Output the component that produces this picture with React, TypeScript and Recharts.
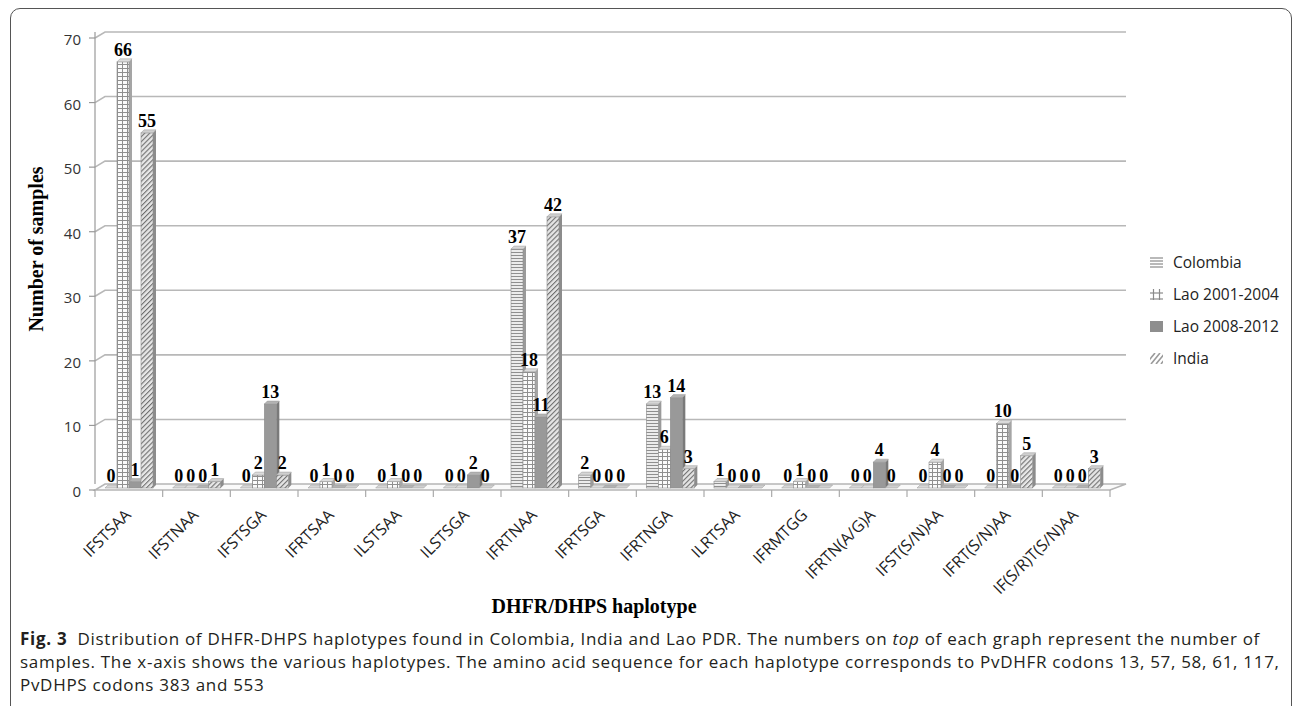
import React from 'react';
import { BarChart, Bar, XAxis, YAxis, CartesianGrid, LabelList } from 'recharts';

const haplotypes = [
  'IFSTSAA', 'IFSTNAA', 'IFSTSGA', 'IFRTSAA', 'ILSTSAA', 'ILSTSGA', 'IFRTNAA', 'IFRTSGA',
  'IFRTNGA', 'ILRTSAA', 'IFRMTGG', 'IFRTN(A/G)A', 'IFST(S/N)AA', 'IFRT(S/N)AA', 'IF(S/R)T(S/N)AA'
];
const colombia = [0, 0, 0, 0, 0, 0, 37, 2, 13, 1, 0, 0, 0, 0, 0];
const lao2001 = [66, 0, 2, 1, 1, 0, 18, 0, 6, 0, 1, 0, 4, 10, 0];
const lao2008 = [1, 0, 13, 0, 0, 2, 11, 0, 14, 0, 0, 4, 0, 0, 0];
const india = [55, 1, 2, 0, 0, 0, 42, 0, 3, 0, 0, 0, 0, 5, 3];
const yTicks = [0, 10, 20, 30, 40, 50, 60, 70];

const series = [
  { key: 'colombia', name: 'Colombia', front: 'url(#pColombia)', side: '#9a9a9a', top: '#d6d6d6' },
  { key: 'lao2001', name: 'Lao 2001-2004', front: 'url(#pLao2001)', side: '#a5a5a5', top: '#dcdcdc' },
  { key: 'lao2008', name: 'Lao 2008-2012', front: '#999999', side: '#7a7a7a', top: '#b3b3b3' },
  { key: 'india', name: 'India', front: 'url(#pIndia)', side: '#8c8c8c', top: '#cfcfcf' },
];

const data = haplotypes.map((h, i) => ({
  name: h,
  colombia: colombia[i],
  lao2001: lao2001[i],
  lao2008: lao2008[i],
  india: india[i],
}));

// layout
const CHART_W = 1293;
const CHART_H = 600;
const M_TOP = 32;
const PLOT_H = 452;
const Y_AXIS_W = 95;
const M_RIGHT = 183;
const PLOT_W = CHART_W - Y_AXIS_W - M_RIGHT;
const PLOT_BOTTOM = M_TOP + PLOT_H;
const DEPTH = 3;
const SHIFT = 4;

const sans = '"Open Sans", "Noto Sans", sans-serif';
const serif = '"Liberation Serif", "Times New Roman", serif';

// bar with a little fake 3D depth
const Bar3D = (props: any) => {
  const { x, y, width, height, front, side, top } = props;
  const yy = y + SHIFT;
  const h = Math.max(height, 0);
  const d = DEPTH;
  return (
    <g>
      {h > 0 && (
        <>
          <polygon
            points={`${x + width},${yy} ${x + width + d},${yy - d} ${x + width + d},${yy + h - d} ${x + width},${yy + h}`}
            fill={side}
          />
          <rect x={x} y={yy} width={width} height={h} fill={front} stroke="#8c8c8c" strokeWidth={0.6} />
        </>
      )}
      <polygon
        points={`${x},${yy} ${x + d},${yy - d} ${x + width + d},${yy - d} ${x + width},${yy}`}
        fill={top}
        stroke="#9a9a9a"
        strokeWidth={0.5}
      />
    </g>
  );
};

const gridLine = (p: any) => {
  const { x1, y1, x2, key } = p;
  if (y1 >= PLOT_BOTTOM - 1) {
    return (
      <g key={key}>
        <path
          d={`M${x1},${y1 + 6} L${x2},${y1 + 6} L${x2 + 16},${y1} L${x1 + 10},${y1} Z`}
          fill="#fafafa"
          stroke="#b5b5b5"
          strokeWidth={1.5}
        />
      </g>
    );
  }
  return (
    <path
      key={key}
      d={`M${x1},${y1 + 6} L${x1 + 10},${y1} L${x2 + 16},${y1}`}
      stroke="#b8b8b8"
      strokeWidth={1.6}
      fill="none"
    />
  );
};

const YTick = (props: any) => {
  const { x, y, payload } = props;
  const ax = x + 14;
  return (
    <g>
      <line x1={ax - 6} x2={ax} y1={y + 6} y2={y + 6} stroke="#999" strokeWidth={1.2} />
      <text x={x} y={y + 7} textAnchor="end" dominantBaseline="central" fontFamily={sans} fontSize={15} fill="#333">
        {payload.value}
      </text>
    </g>
  );
};

const XTick = (props: any) => {
  const { x, payload, index } = props;
  const band = PLOT_W / haplotypes.length;
  const fy = PLOT_BOTTOM + 6;
  const tx = x + 3;
  const ty = PLOT_BOTTOM + 32;
  return (
    <g>
      <line x1={x - band / 2} x2={x - band / 2} y1={fy} y2={fy + 7} stroke="#aaa" strokeWidth={1.2} />
      {index === haplotypes.length - 1 && (
        <line x1={x + band / 2} x2={x + band / 2} y1={fy} y2={fy + 7} stroke="#aaa" strokeWidth={1.2} />
      )}
      <text
        x={tx}
        y={ty}
        textAnchor="end"
        transform={`rotate(-45, ${tx}, ${ty})`}
        fontFamily={sans}
        fontSize={16}
        fill="#222"
      >
        {payload.value}
      </text>
    </g>
  );
};

const LegendIcon = ({ k }: { k: string }) => {
  if (k === 'colombia') {
    return (
      <svg width={13} height={11}>
        {[1, 4, 7, 10].map(y => <line key={y} x1={0} x2={13} y1={y} y2={y} stroke="#8a8a8a" strokeWidth={1.2} />)}
      </svg>
    );
  }
  if (k === 'lao2001') {
    return (
      <svg width={13} height={11}>
        <line x1={0} x2={13} y1={4} y2={4} stroke="#8a8a8a" strokeWidth={1.2} />
        <line x1={0} x2={13} y1={10} y2={10} stroke="#8a8a8a" strokeWidth={1.2} />
        <line x1={3.5} x2={3.5} y1={0} y2={11} stroke="#8a8a8a" strokeWidth={1.2} />
        <line x1={9.5} x2={9.5} y1={0} y2={11} stroke="#8a8a8a" strokeWidth={1.2} />
      </svg>
    );
  }
  if (k === 'lao2008') {
    return (
      <svg width={13} height={11}>
        <rect x={0} y={0} width={13} height={11} fill="#8e8e8e" />
      </svg>
    );
  }
  return (
    <svg width={13} height={11}>
      {[-4, 1, 6, 11].map(o => (
        <line key={o} x1={o} x2={o + 9} y1={11} y2={0} stroke="#9a9a9a" strokeWidth={1.6} />
      ))}
    </svg>
  );
};

const legendY = [262, 294, 326, 358];

const captionLines = [
  <>
    <b>Fig. 3</b>{'  '}Distribution of DHFR-DHPS haplotypes found in Colombia, India and Lao PDR. The numbers on <i>top</i> of each graph represent the number of
  </>,
  <>samples. The x-axis shows the various haplotypes. The amino acid sequence for each haplotype corresponds to PvDHFR codons 13, 57, 58, 61, 117,</>,
  <>PvDHPS codons 383 and 553</>,
];
const captionY = [638, 661, 684];

export default function App() {
  return (
    <div style={{ position: 'absolute', left: 0, top: 0, width: 1293, height: 706, overflow: 'hidden', background: '#fff' }}>
      <div
        style={{
          position: 'absolute', left: 10, top: 8, width: 1282, height: 720,
          border: '1.3px solid #555', borderRadius: 10, boxSizing: 'border-box',
        }}
      />
      <div style={{ position: 'absolute', left: 0, top: 0 }}>
        <BarChart
          width={CHART_W}
          height={CHART_H}
          data={data}
          margin={{ top: M_TOP, right: M_RIGHT, left: 0, bottom: 0 }}
          barGap={0}
          barSize={12}
        >
          <defs>
            <pattern id="pColombia" width={4} height={3} patternUnits="userSpaceOnUse">
              <rect width={4} height={3} fill="#ececec" />
              <line x1={0} x2={4} y1={0.5} y2={0.5} stroke="#8f8f8f" strokeWidth={1} />
            </pattern>
            <pattern id="pLao2001" width={5} height={4} patternUnits="userSpaceOnUse">
              <rect width={5} height={4} fill="#fbfbfb" />
              <line x1={0} x2={5} y1={0.5} y2={0.5} stroke="#8f8f8f" strokeWidth={1} />
              <line x1={2.5} x2={2.5} y1={0} y2={4} stroke="#8f8f8f" strokeWidth={1} />
            </pattern>
            <pattern id="pIndia" width={3.5} height={3.5} patternUnits="userSpaceOnUse" patternTransform="rotate(45)">
              <rect width={3.5} height={3.5} fill="#e6e6e6" />
              <line x1={0} x2={0} y1={0} y2={3.5} stroke="#6e6e6e" strokeWidth={2.2} />
            </pattern>
          </defs>
          <CartesianGrid vertical={false} horizontal={gridLine} />
          <XAxis
            dataKey="name"
            height={CHART_H - M_TOP - PLOT_H}
            axisLine={false}
            tickLine={false}
            interval={0}
            tick={<XTick />}
          />
          <YAxis
            width={Y_AXIS_W}
            domain={[0, 70]}
            ticks={yTicks}
            tickLine={false}
            tickSize={6}
            tickMargin={8}
            axisLine={{ stroke: '#999', strokeWidth: 1.2 }}
            tick={<YTick />}
          />
          {series.map(s => (
            <Bar
              key={s.key}
              dataKey={s.key}
              name={s.name}
              isAnimationActive={false}
              shape={(p: any) => <Bar3D {...p} front={s.front} side={s.side} top={s.top} />}
            >
              <LabelList
                dataKey={s.key}
                position="top"
                offset={2}
                fill="#000"
                fontFamily={serif}
                fontWeight="bold"
                fontSize={18}
              />
            </Bar>
          ))}
        </BarChart>
      </div>

      {/* y axis title */}
      <div
        style={{
          position: 'absolute', left: 36, top: 249, transform: 'translate(-50%, -50%) rotate(-90deg)',
          whiteSpace: 'nowrap', fontFamily: serif, fontWeight: 'bold', fontSize: 20, color: '#000',
        }}
      >
        Number of samples
      </div>

      {/* x axis title */}
      <div
        style={{
          position: 'absolute', left: 594, top: 606, transform: 'translate(-50%, -50%)',
          whiteSpace: 'nowrap', fontFamily: serif, fontWeight: 'bold', fontSize: 20, color: '#000',
        }}
      >
        DHFR/DHPS haplotype
      </div>

      {/* legend */}
      {series.map((s, i) => (
        <div
          key={s.key}
          style={{
            position: 'absolute', left: 1150, top: legendY[i], transform: 'translateY(-50%)',
            display: 'flex', alignItems: 'center', whiteSpace: 'nowrap',
            fontFamily: sans, fontSize: 15.5, color: '#222',
          }}
        >
          <LegendIcon k={s.key} />
          <span style={{ marginLeft: 10 }}>{s.name}</span>
        </div>
      ))}

      {/* caption */}
      {captionLines.map((line, i) => (
        <div
          key={i}
          style={{
            position: 'absolute', left: 20, top: captionY[i], transform: 'translateY(-50%)',
            whiteSpace: 'pre', fontFamily: sans, fontSize: 17, letterSpacing: 0.7, color: '#231f20',
          }}
        >
          {line}
        </div>
      ))}
    </div>
  );
}
